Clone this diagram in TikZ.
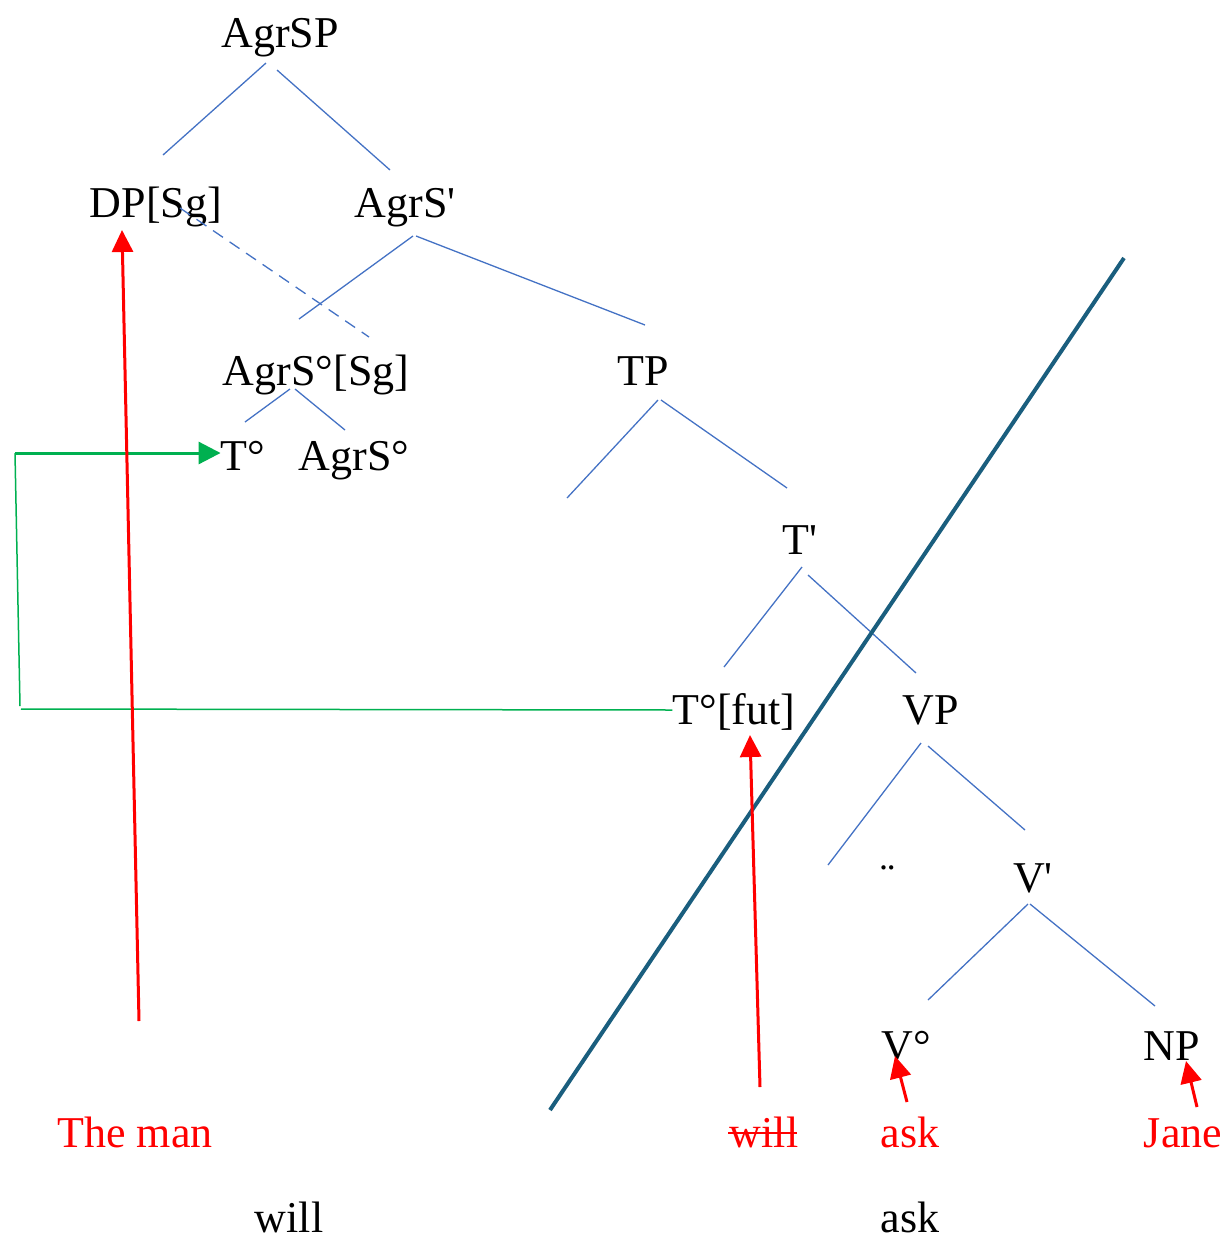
\documentclass[tikz,border=0pt]{standalone}
\usepackage{fontspec}
\setmainfont{Liberation Serif}
\newfontfamily\plainserif{Liberation Serif}
\usetikzlibrary{arrows.meta}
\definecolor{treeblue}{HTML}{4472C4}
\definecolor{teal}{HTML}{1A5E7E}
\definecolor{grn}{HTML}{00B050}
\begin{document}
\begin{tikzpicture}[x=1pt,y=-1pt,
  lab/.style={inner sep=0pt, anchor=base, font=\plainserif\fontsize{44}{52}\selectfont},
  redlab/.style={lab, text=red},
  br/.style={treeblue, line width=1.3pt},
  mv/.style={red, line width=3pt, -{Triangle[length=22pt,width=21pt]}}]
\useasboundingbox (0,0) rectangle (1230,1243);
% labels
\node[lab] (agrsp) at (280,47) {AgrSP};
\node[lab] (dp) at (156,217) {DP[Sg]};
\node[lab] (agrsbar) at (405,217) {AgrS'};
\node[lab] (agrssg) at (316,385) {AgrS°[Sg]};
\node[lab] (tp) at (643,385) {TP};
\node[lab] (t0) at (243,470) {T°};
\node[lab] (agrs0) at (354,470) {AgrS°};
\node[lab] (tbar) at (800,554) {T'};
\node[lab] (tfut) at (734,724) {T°[fut]};
\node[lab] (vp) at (931,724) {VP};
\node[lab] (dots) at (888,893) {¨};
\node[lab] (vbar) at (1033,892) {V'};
\node[lab] (v0) at (906,1060) {V°};
\node[lab] (np) at (1172,1060) {NP};
\node[redlab] (theman) at (135,1147) {The man};
\node[redlab] (willr) at (764,1147) {will};
\node[redlab] (askr) at (910,1147) {ask};
\node[redlab] (jane) at (1183,1147) {Jane};
\node[lab] (willb) at (289,1232) {will};
\node[lab] (askb) at (910,1232) {ask};
% strike through will
\draw[red, line width=2pt] (728,1133) -- (797,1133);
% tree branches
\coordinate (a1) at (266,63); \coordinate (a2) at (163,155);
\coordinate (a3) at (277,70); \coordinate (a4) at (390,170);
\draw[br] (a1) -- (a2); \draw[br] (a3) -- (a4);
\coordinate (b1) at (413,236); \coordinate (b2) at (299,319);
\coordinate (b3) at (416,236); \coordinate (b4) at (645,325);
\draw[br] (b1) -- (b2); \draw[br] (b3) -- (b4);
\coordinate (d1) at (180,208); \coordinate (d2) at (369,337);
\draw[br, dash pattern=on 12pt off 8pt] (d1) -- (d2);
\coordinate (c1) at (290,389); \coordinate (c2) at (245,422);
\coordinate (c3) at (295,389); \coordinate (c4) at (345,430);
\draw[br] (c1) -- (c2); \draw[br] (c3) -- (c4);
\coordinate (e1) at (658,400); \coordinate (e2) at (567,498);
\coordinate (e3) at (661,400); \coordinate (e4) at (787,488);
\draw[br] (e1) -- (e2); \draw[br] (e3) -- (e4);
\coordinate (f1) at (802,567); \coordinate (f2) at (724,667);
\coordinate (f3) at (808,575); \coordinate (f4) at (916,673);
\draw[br] (f1) -- (f2); \draw[br] (f3) -- (f4);
\coordinate (g1) at (921,743); \coordinate (g2) at (828,865);
\coordinate (g3) at (928,746); \coordinate (g4) at (1025,830);
\draw[br] (g1) -- (g2); \draw[br] (g3) -- (g4);
\coordinate (h1) at (1028,904); \coordinate (h2) at (928,1000);
\coordinate (h3) at (1030,904); \coordinate (h4) at (1155,1006);
\draw[br] (h1) -- (h2); \draw[br] (h3) -- (h4);
% teal diagonal
\coordinate (s1) at (1124,258); \coordinate (s2) at (550,1110);
\draw[teal, line width=4pt] (s1) -- (s2);
% green movement
\coordinate (gr1) at (662,710); \coordinate (gr2) at (21,709);
\coordinate (gr3) at (20,706); \coordinate (gr4) at (15,453);
\draw[grn, line width=1.5pt] (tfut.west |- gr1) -- (gr2);
\draw[grn, line width=1.5pt] (gr3) -- (gr4);
\draw[grn, line width=3pt, -{Triangle[length=22pt,width=22pt]}] (gr4) -- (t0.west |- gr4);
% red movement arrows
\coordinate (r1) at (139,1021); \coordinate (r1t) at (122,230);
\draw[mv] (r1) -- (r1t);
\coordinate (r2) at (760,1087); \coordinate (r2t) at (750,735);
\draw[mv] (r2) -- (r2t);
\coordinate (r3) at (907,1102); \coordinate (r3t) at (895,1056);
\draw[mv] (r3) -- (r3t);
\coordinate (r4) at (1197,1107); \coordinate (r4t) at (1186,1061);
\draw[mv] (r4) -- (r4t);
\end{tikzpicture}
\end{document}
